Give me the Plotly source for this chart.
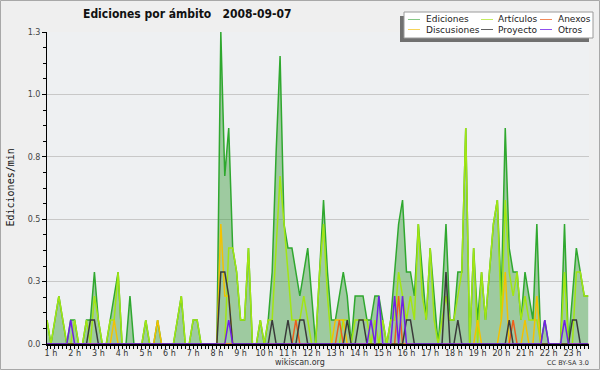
import plotly.graph_objects as go

# ---------------- data (10-minute bins, edits per minute) ----------------
START_MIN = 50      # first bin starts at 0:50
BIN_MIN = 10

ediciones = [
    0.1, 0, 0.1, 0.2, 0.1, 0, 0.1, 0.1, 0, 0,
    0.1, 0.1, 0.3, 0.1, 0, 0, 0.1, 0.2, 0.3, 0,
    0, 0.2, 0, 0, 0, 0.1, 0, 0, 0.1, 0,
    0, 0, 0, 0.1, 0.2, 0, 0, 0.1, 0.1, 0,
    0, 0, 0, 0, 1.3, 0.7, 0.9, 0.4, 0.3, 0.1,
    0.1, 0.4, 0, 0, 0.1, 0, 0.1, 0.3, 0.8, 1.2,
    0.5, 0.4, 0.4, 0.3, 0.2, 0.3, 0.4, 0.2, 0, 0.3,
    0.6, 0.3, 0.1, 0.1, 0.2, 0.3, 0.2, 0, 0.2, 0.2,
    0.2, 0.1, 0.1, 0.2, 0.2, 0.1, 0, 0.1, 0.3, 0.5,
    0.6, 0.3, 0.3, 0.2, 0.5, 0.3, 0.1, 0.4, 0.2, 0,
    0.2, 0.5, 0.1, 0.1, 0.3, 0.3, 0.9, 0, 0.4, 0.1,
    0.3, 0.1, 0.3, 0.5, 0.6, 0.2, 0.9, 0.4, 0.3, 0.3,
    0.1, 0.3, 0.2, 0.1, 0.5, 0, 0.1, 0, 0, 0,
    0, 0.5, 0, 0.2, 0.4, 0.3, 0.2, 0.2,
]
articulos = [
    0.1, 0, 0.1, 0.2, 0.1, 0, 0, 0.1, 0, 0,
    0.1, 0, 0.2, 0.1, 0, 0, 0.1, 0.1, 0.3, 0,
    0, 0, 0, 0, 0, 0.1, 0, 0, 0, 0,
    0, 0, 0, 0.1, 0.2, 0, 0, 0.1, 0.1, 0,
    0, 0, 0, 0, 0, 0, 0.4, 0.4, 0.3, 0.1,
    0.1, 0.4, 0, 0, 0.1, 0, 0.1, 0.1, 0.4, 0.7,
    0.5, 0.3, 0.1, 0.1, 0.1, 0.2, 0.1, 0, 0, 0.3,
    0.5, 0.2, 0, 0, 0, 0.1, 0.1, 0, 0.1, 0.1,
    0.1, 0.1, 0, 0.1, 0, 0.1, 0, 0.1, 0.1, 0.3,
    0.2, 0.1, 0.2, 0.1, 0.5, 0.2, 0.1, 0.4, 0.1, 0,
    0.1, 0.2, 0.1, 0.1, 0.2, 0.3, 0.9, 0, 0.4, 0,
    0.3, 0.1, 0.3, 0.5, 0.6, 0.1, 0.6, 0.3, 0.2, 0.3,
    0.1, 0.2, 0.1, 0.1, 0.1, 0, 0, 0, 0, 0,
    0, 0.3, 0, 0, 0.3, 0.3, 0.2, 0.2,
]
anexos = [
    0, 0, 0, 0, 0, 0, 0, 0, 0, 0,
    0, 0, 0, 0, 0, 0, 0, 0, 0, 0,
    0, 0, 0, 0, 0, 0, 0, 0, 0, 0,
    0, 0, 0, 0, 0, 0, 0, 0, 0, 0,
    0, 0, 0, 0, 0, 0, 0, 0, 0, 0,
    0, 0, 0, 0, 0, 0, 0, 0, 0, 0,
    0, 0, 0, 0.1, 0, 0, 0, 0, 0, 0,
    0, 0, 0, 0, 0.1, 0, 0, 0, 0, 0,
    0, 0, 0, 0, 0, 0, 0, 0, 0, 0.2,
    0, 0, 0, 0, 0, 0, 0, 0, 0, 0,
    0, 0, 0, 0, 0, 0, 0, 0, 0, 0,
    0, 0, 0, 0, 0, 0, 0, 0, 0.1, 0,
    0, 0, 0, 0, 0, 0, 0, 0, 0, 0,
    0, 0, 0, 0, 0, 0, 0, 0,
]
discusiones = [
    0, 0, 0, 0, 0, 0, 0, 0, 0, 0,
    0, 0, 0, 0, 0, 0, 0, 0.1, 0, 0,
    0, 0, 0, 0, 0, 0, 0, 0, 0.1, 0,
    0, 0, 0, 0, 0, 0, 0, 0, 0, 0,
    0, 0, 0, 0, 0.5, 0.2, 0.2, 0, 0, 0,
    0, 0, 0, 0, 0, 0, 0, 0, 0, 0,
    0, 0, 0, 0, 0, 0, 0, 0, 0, 0,
    0, 0, 0, 0.1, 0.1, 0.1, 0, 0, 0, 0,
    0, 0, 0, 0, 0, 0, 0, 0, 0, 0,
    0, 0, 0, 0, 0, 0, 0, 0, 0, 0,
    0, 0, 0, 0, 0, 0, 0, 0, 0, 0.1,
    0, 0, 0, 0, 0, 0.1, 0.3, 0, 0, 0,
    0, 0.1, 0, 0, 0.2, 0, 0, 0, 0, 0,
    0, 0, 0, 0, 0, 0, 0, 0,
]
proyecto = [
    0, 0, 0, 0, 0, 0, 0, 0, 0, 0,
    0, 0.1, 0.1, 0, 0, 0, 0, 0, 0, 0,
    0, 0, 0, 0, 0, 0, 0, 0, 0, 0,
    0, 0, 0, 0, 0, 0, 0, 0, 0, 0,
    0, 0, 0, 0, 0.3, 0.3, 0.2, 0, 0, 0,
    0, 0, 0, 0, 0, 0, 0, 0.1, 0, 0,
    0, 0.1, 0, 0, 0.1, 0.1, 0, 0, 0, 0,
    0, 0, 0, 0, 0, 0, 0.1, 0, 0, 0.1,
    0.1, 0, 0, 0, 0, 0, 0, 0, 0, 0,
    0, 0.1, 0.1, 0, 0, 0, 0, 0, 0, 0,
    0, 0.3, 0, 0, 0.1, 0, 0, 0, 0, 0,
    0, 0, 0, 0, 0, 0, 0, 0.1, 0, 0,
    0, 0, 0, 0, 0, 0, 0, 0, 0, 0,
    0, 0, 0, 0.1, 0.1, 0, 0, 0,
]
otros = [
    0, 0, 0, 0, 0, 0, 0.1, 0, 0, 0,
    0, 0, 0, 0, 0, 0, 0, 0, 0, 0,
    0, 0, 0, 0, 0, 0, 0, 0, 0, 0,
    0, 0, 0, 0, 0, 0, 0, 0, 0, 0,
    0, 0, 0, 0, 0, 0, 0.1, 0, 0, 0,
    0, 0, 0, 0, 0, 0, 0, 0, 0, 0,
    0, 0, 0, 0, 0, 0, 0, 0, 0, 0,
    0, 0, 0, 0, 0, 0, 0, 0, 0, 0,
    0, 0, 0.1, 0, 0.2, 0, 0, 0, 0.2, 0,
    0.2, 0, 0, 0, 0, 0, 0, 0, 0, 0,
    0, 0, 0, 0, 0, 0, 0, 0, 0, 0,
    0, 0, 0, 0, 0, 0, 0, 0, 0, 0,
    0, 0, 0, 0, 0, 0, 0.1, 0, 0, 0,
    0, 0.1, 0, 0, 0, 0, 0, 0,
]

hour_ticks = list(range(1, 24))
hour_labels = [f"{h} h" for h in hour_ticks]
y_tickvals = [0, 0.26, 0.52, 0.78, 1.04, 1.3]
y_ticktext = ["0.0", "0.3", "0.5", "0.8", "1.0", "1.3"]

title_text = "Ediciones por ámbito\u00a0\u00a0\u00a02008-09-07"
y_title = "Ediciones/min"

# ---------------- styling ----------------
C_EDI = "#2fa82f"
C_ART = "#a2e612"
C_ANE = "#ee5f1c"
C_DIS = "#f3c200"
C_PRO = "#3a3a3a"
C_OTR = "#7020e6"

minutes = [START_MIN + BIN_MIN * i for i in range(len(ediciones))]

# plot area in pixels
L, R, T, B = 47, 589, 32, 344
W, H = 600, 370


def PX(x):
    return (x - L) / (R - L)


def PY(y):
    return (B - y) / (B - T)


fig = go.Figure()
fig.add_trace(go.Scatter(x=minutes, y=ediciones, mode="lines", name="Ediciones",
                         line=dict(color=C_EDI, width=1.5), fill="tozeroy",
                         fillcolor="rgba(60,155,60,0.45)", showlegend=False))
series = [("Artículos", articulos, C_ART), ("Discusiones", discusiones, C_DIS),
          ("Anexos", anexos, C_ANE), ("Proyecto", proyecto, C_PRO),
          ("Otros", otros, C_OTR)]
for name, vals, col in series:
    fig.add_trace(go.Scatter(x=minutes, y=vals, mode="lines", name=name,
                             line=dict(color=col, width=1.5), showlegend=False))

FONT = "DejaVu Sans"
shapes = []
annotations = []

# outer border
shapes.append(dict(type="rect", xref="paper", yref="paper",
                   x0=PX(0.5), x1=PX(W - 0.5), y0=PY(H - 0.5), y1=PY(0.5),
                   line=dict(color="#a8a8a8", width=1), fillcolor="rgba(0,0,0,0)",
                   layer="below"))

# legend (manual: 2 rows x 3 cols, with shadow)
shapes.append(dict(type="rect", xref="paper", yref="paper",
                   x0=PX(400), x1=PX(589), y0=PY(42), y1=PY(16),
                   line=dict(width=0), fillcolor="#707070"))
shapes.append(dict(type="rect", xref="paper", yref="paper",
                   x0=PX(404), x1=PX(593), y0=PY(38), y1=PY(12),
                   line=dict(color="#9a9a9a", width=1), fillcolor="#ffffff"))
leg_items = [("Ediciones", "#86c886"), ("Artículos", "#c4ec60"), ("Anexos", "#f28a5a"),
             ("Discusiones", "#f6d45a"), ("Proyecto", "#606060"), ("Otros", "#9050ee")]
col_line_x = [408, 481, 540]
col_text_x = [424, 496, 556]
row_y = [19.5, 29.5]
for i, (nm, col) in enumerate(leg_items):
    r, c = divmod(i, 3)
    shapes.append(dict(type="line", xref="paper", yref="paper",
                       x0=PX(col_line_x[c]), x1=PX(col_line_x[c] + 12),
                       y0=PY(row_y[r]), y1=PY(row_y[r]),
                       line=dict(color=col, width=1)))
    annotations.append(dict(xref="paper", yref="paper", x=PX(col_text_x[c]), y=PY(row_y[r]),
                            text=nm, showarrow=False, xanchor="left", yanchor="middle",
                            font=dict(family=FONT, size=9, color="#222")))

# title
annotations.append(dict(xref="paper", yref="paper", x=PX(188), y=PY(14.5),
                        text=title_text, showarrow=False, xanchor="center", yanchor="middle",
                        font=dict(family="DejaVu Sans Condensed, Liberation Sans", size=12,
                                  color="#111", weight="bold")))
# y title
annotations.append(dict(xref="paper", yref="paper", x=PX(9.5), y=PY(188),
                        text=y_title, showarrow=False, textangle=-90,
                        xanchor="center", yanchor="middle",
                        font=dict(family="DejaVu Sans Mono", size=10, color="#111")))
# footer
annotations.append(dict(xref="paper", yref="paper", x=PX(300), y=PY(362.5),
                        text="wikiscan.org", showarrow=False, xanchor="center", yanchor="middle",
                        borderpad=0,
                        font=dict(family=FONT, size=8, color="#333")))
annotations.append(dict(xref="paper", yref="paper", x=PX(590), y=PY(363),
                        text="CC BY-SA 3.0", showarrow=False, xanchor="right", yanchor="middle",
                        borderpad=0,
                        font=dict(family=FONT, size=6.5, color="#333")))

fig.update_layout(
    width=W, height=H, autosize=False,
    margin=dict(l=L, r=W - R, t=T, b=H - B, pad=0),
    paper_bgcolor="#efefef", plot_bgcolor="#eef0f2",
    showlegend=False,
    shapes=shapes, annotations=annotations,
    xaxis=dict(range=[START_MIN, 1422], tickmode="array",
               tickvals=[60 * h for h in hour_ticks], ticktext=hour_labels,
               ticks="outside", ticklen=3, tickwidth=1, tickcolor="#000",
               ticklabelstandoff=-3,
               showline=True, linecolor="#000", linewidth=2,
               showgrid=False, zeroline=False, fixedrange=True,
               tickfont=dict(family=FONT, size=8, color="#333"),
               minor=dict(dtick=BIN_MIN, tick0=0, ticks="outside", ticklen=3,
                          tickwidth=1, tickcolor="#000", showgrid=False)),
    yaxis=dict(range=[0, 1.3], tickmode="array", tickvals=y_tickvals, ticktext=y_ticktext,
               ticks="outside", ticklen=4, tickwidth=1, tickcolor="#000",
               showline=True, linecolor="#000", linewidth=1,
               showgrid=True, gridcolor="#c8c8c8", gridwidth=1,
               zeroline=False, fixedrange=True,
               tickfont=dict(family=FONT, size=8, color="#444"),
               minor=dict(dtick=0.065, tick0=0, ticks="outside", ticklen=3,
                          tickwidth=1, tickcolor="#000", showgrid=False)),
)

fig.write_html("out.html", config={"displayModeBar": False})

# remove the default page margin so the figure sits at the window's top-left corner
with open("out.html", "r", encoding="utf-8") as f:
    html = f.read()
html = html.replace("<head>", "<head><style>html,body{margin:0;padding:0;overflow:hidden;}</style>", 1)
with open("out.html", "w", encoding="utf-8") as f:
    f.write(html)
